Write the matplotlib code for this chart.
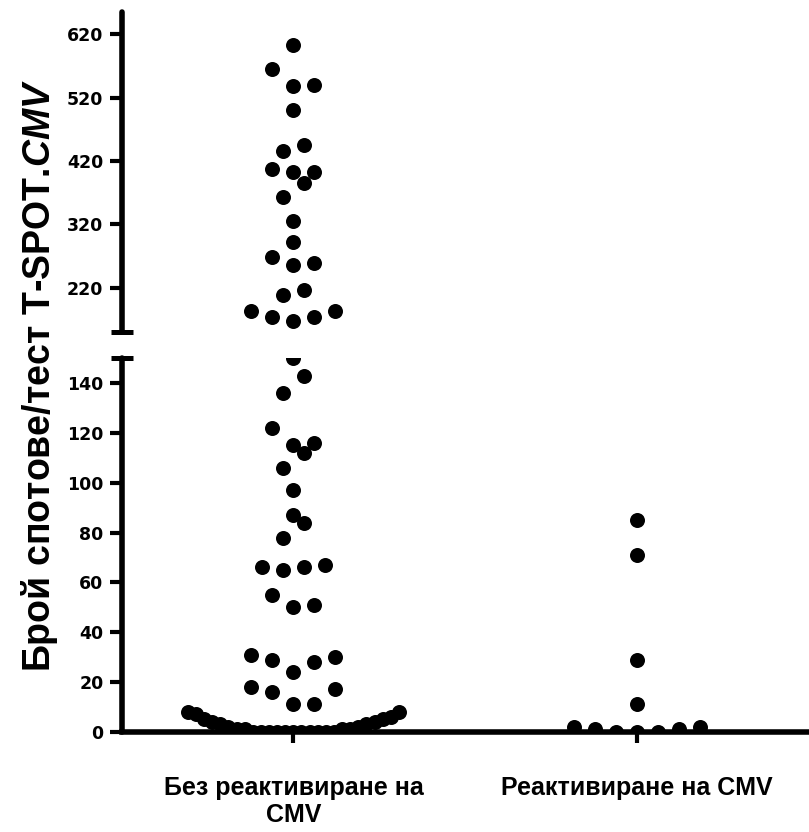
import numpy as np
import matplotlib
matplotlib.use("Agg")
import matplotlib.pyplot as plt

plt.rcParams['font.family'] = ['Liberation Sans', 'DejaVu Sans']
plt.rcParams['mathtext.fontset'] = 'custom'
plt.rcParams['mathtext.it'] = 'Liberation Sans:italic:bold'
plt.rcParams['mathtext.rm'] = 'Liberation Sans:bold'
plt.rcParams['mathtext.bf'] = 'Liberation Sans:bold'

# ---------------- data ----------------
categories = ["Без реактивиране на\nCMV", "Реактивиране на CMV"]

no_reactivation = [
    603, 565, 540, 538, 501, 445, 436, 408, 403, 403, 385, 363,
    325, 292, 268, 259, 255, 217, 209, 183, 183, 174, 174, 168,
    150, 143, 136, 122, 116, 115, 112, 106, 97, 87, 84, 78,
    67, 66, 66, 65, 55, 51, 50, 31, 30, 29, 28, 24, 18, 17, 16, 11, 11,
    8, 8, 7, 6, 5, 5, 4, 4, 3, 3, 2, 2, 1, 1, 1, 1,
    0, 0, 0, 0, 0, 0, 0, 0, 0, 0, 0,
]
reactivation = [85, 71, 29, 11, 2, 2, 1, 1, 0, 0, 0]

lower_ticks = [0, 20, 40, 60, 80, 100, 120, 140]
upper_ticks = [220, 320, 420, 520, 620]
lower_range = (0, 150)
upper_range = (150, 655)
break_value = 150

ylabel_main = "Брой спотове/тест T-SPOT."
ylabel_italic = "CMV"

# ---------------- figure ----------------
W, H = 809, 832
fig = plt.figure(figsize=(W / 100, H / 100), dpi=100)
left = 121.5 / W
ax_lo = fig.add_axes([left, (H - 731.7) / H, 1 - left, (731.7 - 358.3) / H])
ax_hi = fig.add_axes([left, (H - 332) / H, 1 - left, (332 - 12) / H])

for ax in (ax_lo, ax_hi):
    ax.set_xlim(0.5, 2.5)
    ax.patch.set_visible(False)
    for s in ('top', 'right'):
        ax.spines[s].set_visible(False)
    ax.spines['left'].set_linewidth(4)
    ax.spines['left'].set_capstyle('round')
ax_lo.spines['bottom'].set_linewidth(4)
ax_hi.spines['bottom'].set_visible(False)
ax_lo.set_ylim(*lower_range)
ax_hi.set_ylim(*upper_range)


def swarm(values, center, step_px=21.0, max_px=211.0, row_px=20.0):
    """Prism-like column scatter: group near values in rows, spread center-out."""
    vals = np.sort(np.asarray(values, float))
    ys = np.array([(ax_hi if v > break_value else ax_lo).transData.transform((center, v))[1]
                   for v in vals])
    x0 = ax_lo.transData.transform((center, 0))[0]
    xp = np.empty_like(ys)
    i, n = 0, len(vals)
    while i < n:
        j = i
        while j + 1 < n and ys[j + 1] - ys[i] <= row_px:
            j += 1
        m = j - i + 1
        step = step_px if m == 1 else min(step_px, max_px / (m - 1))
        for k in range(m):
            if m % 2:
                slot = ((k + 1) // 2) * (1 if k % 2 == 1 else -1)
            else:
                slot = (k // 2 + 0.5) * (-1 if k % 2 == 0 else 1)
            xp[i + k] = x0 + slot * step
        i = j + 1
    inv = ax_lo.transData.inverted()
    xs = np.array([inv.transform((p, 0))[0] for p in xp])
    return vals, xs


msize = 10.8 ** 2
for pos, data in zip([1, 2], [no_reactivation, reactivation]):
    vals, xs = swarm(data, pos)
    lo = vals <= break_value
    ax_lo.scatter(xs[lo], vals[lo], s=msize, c='black', linewidths=0, zorder=3)
    if np.any(~lo):
        ax_hi.scatter(xs[~lo], vals[~lo], s=msize, c='black', linewidths=0, zorder=3)

# ticks
tick_font = dict(family='DejaVu Sans', weight='bold', size=12.5)
ax_lo.set_yticks(lower_ticks)
ax_lo.set_yticklabels([str(t) for t in lower_ticks], fontdict=tick_font)
ax_hi.set_yticks(upper_ticks)
ax_hi.set_yticklabels([str(t) for t in upper_ticks], fontdict=tick_font)
for ax in (ax_lo, ax_hi):
    ax.tick_params(axis='y', which='major', length=9, width=3, pad=4, direction='out')
    ax.tick_params(axis='y', which='minor', length=16, width=3.6, direction='inout')
ax_lo.set_yticks([break_value], minor=True)
ax_hi.set_yticks([break_value], minor=True)

ax_hi.set_xticks([])
ax_lo.set_xticks([1, 2])
ax_lo.set_xticklabels(categories, fontsize=18, fontweight='bold', linespacing=1.15)
ax_lo.tick_params(axis='x', length=8, width=3, pad=24, direction='out')

fig.text(40 / W, (H - 376) / H, ylabel_main + r"$\mathit{" + ylabel_italic + "}$",
         rotation=90, ha='center', va='center', fontsize=27, fontweight='bold')

fig.savefig("out.png", dpi=100)
